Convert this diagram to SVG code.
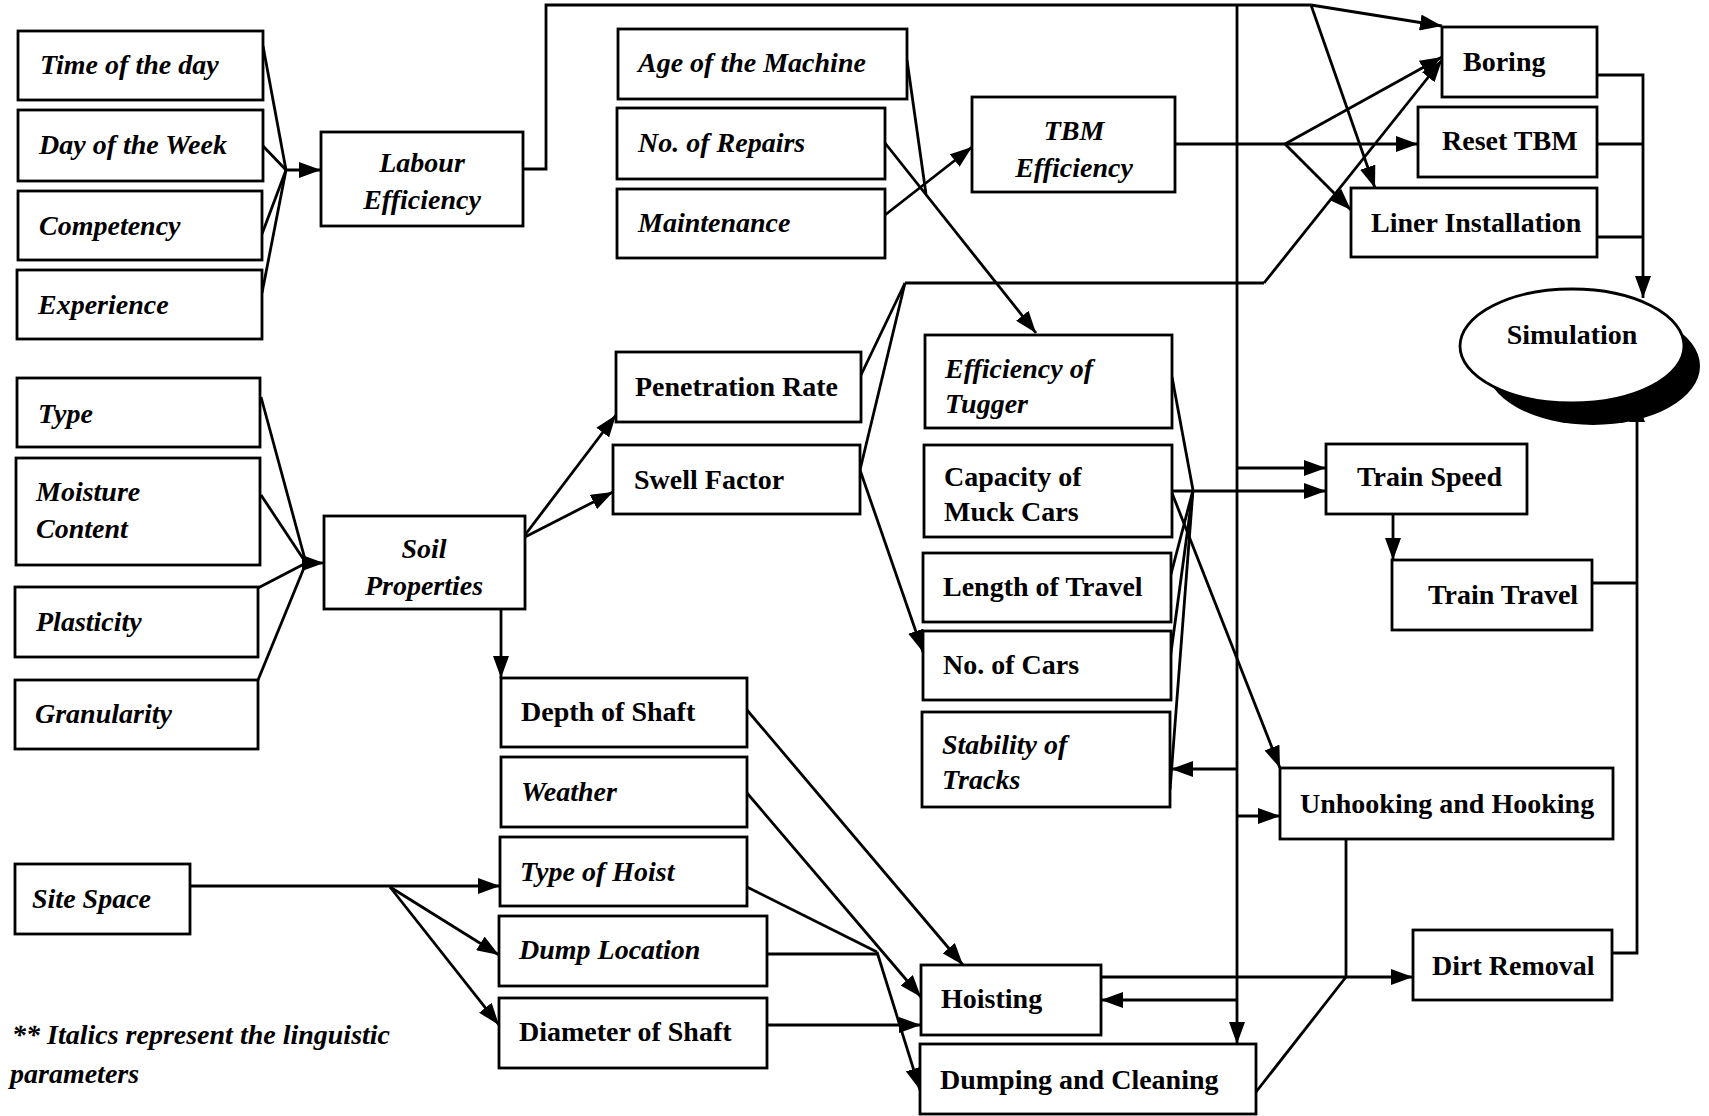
<svg xmlns="http://www.w3.org/2000/svg" width="1709" height="1116" viewBox="0 0 1709 1116">
<defs>
<marker id="arr" viewBox="0 0 22 16" refX="22" refY="8" markerWidth="22" markerHeight="16" markerUnits="userSpaceOnUse" orient="auto"><path d="M0,0 L22,8 L0,16 z" fill="#000"/></marker>
</defs>
<style>
rect{fill:#fff;stroke:#000;stroke-width:2.8}
text{font-family:"Liberation Serif","Times New Roman",serif;font-weight:bold;font-size:28px;fill:#000}
.i{font-style:italic}
.c{text-anchor:middle}
#connectors line,#connectors polyline{fill:none;stroke:#000;stroke-width:2.8}
.a{marker-end:url(#arr)}
</style>
<rect x="0" y="0" width="1709" height="1116" style="fill:#fff;stroke:none"/>

<g id="connectors">
<!-- Labour efficiency inputs -->
<line x1="263" y1="46" x2="286" y2="170"/>
<line x1="263" y1="146" x2="286" y2="170"/>
<line x1="262" y1="234" x2="286" y2="170"/>
<line x1="262" y1="293" x2="286" y2="170"/>
<line class="a" x1="286" y1="170" x2="321" y2="170"/>
<!-- Labour efficiency to top bus -->
<polyline points="523,169 546,169 546,5 1311,5"/>
<line class="a" x1="1311" y1="5" x2="1442" y2="26"/>
<line class="a" x1="1311" y1="5" x2="1375" y2="188"/>
<line class="a" x1="1237" y1="5" x2="1237" y2="1044"/>
<line class="a" x1="1237" y1="468" x2="1326" y2="468"/>
<line class="a" x1="1237" y1="769" x2="1171" y2="769"/>
<line class="a" x1="1237" y1="816" x2="1280" y2="816"/>
<line class="a" x1="1237" y1="1000" x2="1101" y2="1000"/>
<!-- TBM inputs -->
<line x1="907" y1="60" x2="926" y2="194"/>
<line class="a" x1="885" y1="143" x2="1036" y2="333"/>
<line class="a" x1="885" y1="215" x2="972" y2="147"/>
<!-- TBM efficiency fan -->
<line x1="1175" y1="144" x2="1285" y2="144"/>
<line class="a" x1="1285" y1="144" x2="1442" y2="57"/>
<line class="a" x1="1285" y1="144" x2="1418" y2="144"/>
<line class="a" x1="1285" y1="144" x2="1351" y2="210"/>
<!-- Penetration / Swell to Boring -->
<line x1="861" y1="375" x2="905" y2="283"/>
<line x1="860" y1="470" x2="905" y2="283"/>
<polyline points="905,283 1264,283"/>
<line class="a" x1="1264" y1="283" x2="1442" y2="60"/>
<line class="a" x1="860" y1="470" x2="923" y2="652"/>
<!-- Soil properties inputs -->
<line x1="261" y1="397" x2="306" y2="563"/>
<line x1="261" y1="495" x2="306" y2="563"/>
<line x1="258" y1="588" x2="306" y2="563"/>
<line x1="258" y1="680" x2="306" y2="563"/>
<line class="a" x1="302" y1="563" x2="324" y2="563"/>
<line class="a" x1="525" y1="535" x2="616" y2="415"/>
<line class="a" x1="525" y1="537" x2="613" y2="492"/>
<line class="a" x1="501" y1="609" x2="501" y2="678"/>
<!-- Train group -->
<line x1="1172" y1="377" x2="1193" y2="490"/>
<line x1="1170" y1="578" x2="1193" y2="490"/>
<line x1="1170" y1="660" x2="1193" y2="490"/>
<line x1="1170" y1="790" x2="1193" y2="490"/>
<line class="a" x1="1172" y1="491" x2="1326" y2="491"/>
<line class="a" x1="1172" y1="493" x2="1280" y2="768"/>
<line class="a" x1="1393" y1="514" x2="1393" y2="560"/>
<!-- Hoisting group -->
<line class="a" x1="747" y1="710" x2="963" y2="965"/>
<line class="a" x1="747" y1="793" x2="921" y2="997"/>
<line x1="747" y1="887" x2="877" y2="952"/>
<line x1="767" y1="954" x2="877" y2="954"/>
<line class="a" x1="877" y1="952" x2="920" y2="1090"/>
<line class="a" x1="767" y1="1025" x2="921" y2="1025"/>
<!-- Site space -->
<line class="a" x1="190" y1="886" x2="500" y2="886"/>
<line class="a" x1="390" y1="887" x2="499" y2="955"/>
<line class="a" x1="390" y1="887" x2="499" y2="1025"/>
<!-- Dirt removal -->
<line class="a" x1="1101" y1="977" x2="1413" y2="977"/>
<line x1="1346" y1="839" x2="1346" y2="977"/>
<line x1="1256" y1="1092" x2="1346" y2="977"/>
<!-- To simulation -->
<polyline points="1597,75 1643,75 1643,200"/>
<line class="a" x1="1643" y1="200" x2="1643" y2="298"/>
<line x1="1597" y1="144" x2="1643" y2="144"/>
<line x1="1597" y1="237" x2="1643" y2="237"/>
<polyline points="1612,953 1637,953 1637,500"/>
<line class="a" x1="1637" y1="500" x2="1637" y2="400"/>
<line x1="1592" y1="583" x2="1637" y2="583"/>
</g>

<g id="n-time"><rect x="18" y="31" width="245" height="69"/><text class="i" x="40" y="74">Time of the day</text></g>
<g id="n-day"><rect x="18" y="110" width="245" height="71"/><text class="i" x="39" y="154">Day of the Week</text></g>
<g id="n-competency"><rect x="18" y="191" width="244" height="69"/><text class="i" x="39" y="235">Competency</text></g>
<g id="n-experience"><rect x="17" y="270" width="245" height="69"/><text class="i" x="38" y="314">Experience</text></g>
<g id="n-labour"><rect x="321" y="132" width="202" height="94"/><text class="i c" x="422" y="172">Labour</text><text class="i c" x="422" y="209">Efficiency</text></g>
<g id="n-type"><rect x="17" y="378" width="243" height="69"/><text class="i" x="38" y="423">Type</text></g>
<g id="n-moisture"><rect x="16" y="458" width="244" height="107"/><text class="i" x="36" y="501">Moisture</text><text class="i" x="36" y="538">Content</text></g>
<g id="n-plasticity"><rect x="15" y="587" width="243" height="70"/><text class="i" x="36" y="631">Plasticity</text></g>
<g id="n-granularity"><rect x="15" y="680" width="243" height="69"/><text class="i" x="35" y="723">Granularity</text></g>
<g id="n-soil"><rect x="324" y="516" width="201" height="93"/><text class="i c" x="424" y="558">Soil</text><text class="i c" x="424" y="595">Properties</text></g>
<g id="n-site"><rect x="15" y="864" width="175" height="70"/><text class="i" x="32" y="908">Site Space</text></g>
<g id="n-age"><rect x="618" y="29" width="289" height="70"/><text class="i" x="638" y="72">Age of the Machine</text></g>
<g id="n-repairs"><rect x="617" y="108" width="268" height="71"/><text class="i" x="638" y="152">No. of Repairs</text></g>
<g id="n-maintenance"><rect x="617" y="189" width="268" height="69"/><text class="i" x="638" y="232">Maintenance</text></g>
<g id="n-tbm"><rect x="972" y="97" width="203" height="95"/><text class="i c" x="1074" y="140">TBM</text><text class="i c" x="1074" y="177">Efficiency</text></g>
<g id="n-penetration"><rect x="616" y="352" width="245" height="70"/><text x="635" y="396">Penetration Rate</text></g>
<g id="n-swell"><rect x="613" y="445" width="247" height="69"/><text x="634" y="489">Swell Factor</text></g>
<g id="n-depth"><rect x="501" y="678" width="246" height="69"/><text x="521" y="721">Depth of Shaft</text></g>
<g id="n-weather"><rect x="501" y="757" width="246" height="70"/><text class="i" x="521" y="801">Weather</text></g>
<g id="n-hoisttype"><rect x="500" y="837" width="247" height="69"/><text class="i" x="520" y="881">Type of Hoist</text></g>
<g id="n-dumploc"><rect x="499" y="916" width="268" height="70"/><text class="i" x="519" y="959">Dump Location</text></g>
<g id="n-diameter"><rect x="499" y="998" width="268" height="70"/><text x="519" y="1041">Diameter of Shaft</text></g>
<g id="n-tugger"><rect x="925" y="335" width="247" height="93"/><text class="i" x="945" y="378">Efficiency of</text><text class="i" x="945" y="413">Tugger</text></g>
<g id="n-capacity"><rect x="924" y="445" width="248" height="92"/><text x="944" y="486">Capacity of</text><text x="944" y="521">Muck Cars</text></g>
<g id="n-length"><rect x="923" y="553" width="248" height="69"/><text x="943" y="596">Length of Travel</text></g>
<g id="n-nocars"><rect x="923" y="631" width="248" height="69"/><text x="943" y="674">No. of Cars</text></g>
<g id="n-stability"><rect x="922" y="712" width="248" height="95"/><text class="i" x="942" y="754">Stability of</text><text class="i" x="942" y="789">Tracks</text></g>
<g id="n-hoisting"><rect x="921" y="965" width="180" height="70"/><text x="941" y="1008">Hoisting</text></g>
<g id="n-dumping"><rect x="920" y="1044" width="336" height="70"/><text x="940" y="1089">Dumping and Cleaning</text></g>
<g id="n-boring"><rect x="1442" y="27" width="155" height="70"/><text x="1463" y="71">Boring</text></g>
<g id="n-reset"><rect x="1418" y="107" width="179" height="70"/><text x="1442" y="150">Reset TBM</text></g>
<g id="n-liner"><rect x="1351" y="188" width="246" height="69"/><text x="1371" y="232">Liner Installation</text></g>
<g id="n-simulation"><ellipse cx="1593" cy="366" rx="107" ry="59" fill="#000"/><ellipse cx="1572" cy="346" rx="112" ry="57" fill="#fff" stroke="#000" stroke-width="2.8"/><text class="c" x="1572" y="344">Simulation</text></g>
<g id="n-trainspeed"><rect x="1326" y="444" width="201" height="70"/><text x="1357" y="486">Train Speed</text></g>
<g id="n-traintravel"><rect x="1392" y="560" width="200" height="70"/><text x="1428" y="604">Train Travel</text></g>
<g id="n-unhooking"><rect x="1280" y="768" width="333" height="71"/><text x="1300" y="813">Unhooking and Hooking</text></g>
<g id="n-dirt"><rect x="1413" y="930" width="199" height="70"/><text x="1432" y="975">Dirt Removal</text></g>

<g id="footnote"><text class="i" x="12" y="1044">** Italics represent the linguistic</text><text class="i" x="10" y="1083">parameters</text></g>
</svg>
